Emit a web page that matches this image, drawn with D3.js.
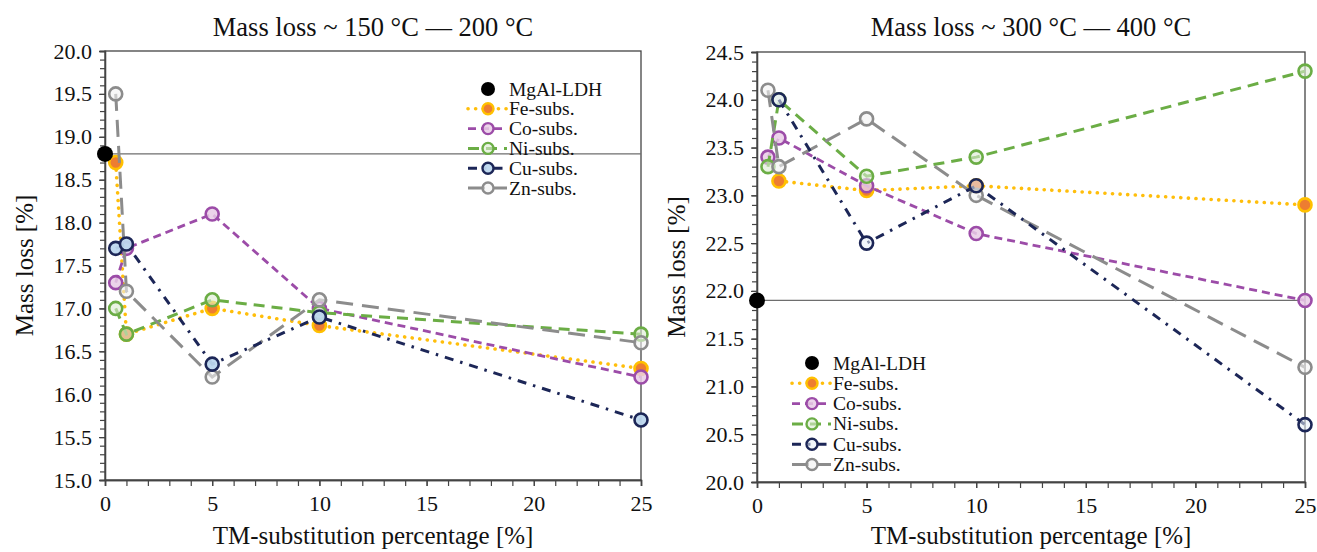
<!DOCTYPE html>
<html><head><meta charset="utf-8">
<script src="https://cdn.jsdelivr.net/npm/d3@7"></script>
<style>
html,body{margin:0;padding:0;background:#fff;}
text{font-family:"Liberation Serif","Times New Roman",serif;fill:#111;}
</style></head>
<body><svg id="c" width="1317" height="552"></svg>
<script>
// ---- data ----
const xValues = [0.5, 1, 5, 10, 25];
const seriesNames = ["Fe-subs.", "Co-subs.", "Ni-subs.", "Cu-subs.", "Zn-subs."];
const mgalLow = 18.8;
const feLow = [18.7, 16.7, 17.0, 16.8, 16.3];
const coLow = [17.3, 17.7, 18.1, 17.0, 16.2];
const niLow = [17.0, 16.7, 17.1, 16.95, 16.7];
const cuLow = [17.7, 17.75, 16.35, 16.9, 15.7];
const znLow = [19.5, 17.2, 16.2, 17.1, 16.6];
const mgalHigh = 21.9;
const feHigh = [null, 23.15, 23.05, 23.1, 22.9];
const coHigh = [23.4, 23.6, 23.1, 22.6, 21.9];
const niHigh = [23.3, 24.0, 23.2, 23.4, 24.3];
const cuHigh = [null, 24.0, 22.5, 23.1, 20.6];
const znHigh = [24.1, 23.3, 23.8, 23.0, 21.2];
const xTickLabels = [0, 5, 10, 15, 20, 25];
const yTickLabelsLow = [15.0, 15.5, 16.0, 16.5, 17.0, 17.5, 18.0, 18.5, 19.0, 19.5, 20.0];
const yTickLabelsHigh = [20.0, 20.5, 21.0, 21.5, 22.0, 22.5, 23.0, 23.5, 24.0, 24.5];
const titles = ["Mass loss ~ 150 °C — 200 °C", "Mass loss ~ 300 °C — 400 °C"];

// ---- styles ----
const styles = {
  "Fe-subs.": {stroke:"#FFBE0B", dash:"0.1 7.5", width:3.6, cap:"round", mStroke:"#FFC000", mFill:"#ED7D31", mOp:1},
  "Co-subs.": {stroke:"#9C4CA8", dash:"8 5", width:2.8, cap:"butt", mStroke:"#9C4CA8", mFill:"#E9CDE6", mOp:0.85},
  "Ni-subs.": {stroke:"#6BAD45", dash:"11 7", width:3, cap:"butt", mStroke:"#6BAD45", mFill:"#DCEBD2", mOp:0.6},
  "Cu-subs.": {stroke:"#1C2657", dash:"9 7 2.5 7", width:3, cap:"butt", mStroke:"#1C2657", mFill:"#BDD7EE", mOp:0.9},
  "Zn-subs.": {stroke:"#8C8C8C", dash:"17 9", width:3, cap:"butt", mStroke:"#8C8C8C", mFill:"#F2F2F2", mOp:0.6}
};
const drawOrder = ["Fe-subs.", "Co-subs.", "Ni-subs.", "Zn-subs.", "Cu-subs."];

const panels = [
  {x0:105, x1:641, y0:51, y1:480, yDom:[15,20], yTicks:yTickLabelsLow, mgal:mgalLow,
   data:{"Fe-subs.":feLow,"Co-subs.":coLow,"Ni-subs.":niLow,"Cu-subs.":cuLow,"Zn-subs.":znLow},
   title:titles[0], legend:{x:488, y:89, dy:19.8}, cuFill:"#BDD7EE", cuOp:0.95},
  {x0:757, x1:1305, y0:52, y1:482, yDom:[20,24.5], yTicks:yTickLabelsHigh, mgal:mgalHigh,
   data:{"Fe-subs.":feHigh,"Co-subs.":coHigh,"Ni-subs.":niHigh,"Cu-subs.":cuHigh,"Zn-subs.":znHigh},
   title:titles[1], legend:{x:812, y:363, dy:20.3}, cuFill:"#E6EEF8", cuOp:0.55}
];

const svg = d3.select("#c");

panels.forEach(p => {
  const x = d3.scaleLinear().domain([0,25]).range([p.x0, p.x1]);
  const y = d3.scaleLinear().domain(p.yDom).range([p.y1, p.y0]);
  const g = svg.append("g");

  g.append("rect").attr("x",p.x0).attr("y",p.y0).attr("width",p.x1-p.x0).attr("height",p.y1-p.y0)
    .attr("fill","none").attr("stroke","#444").attr("stroke-width",1.3);

  const minorY = d3.range(Math.round(p.yDom[0]*10), Math.round(p.yDom[1]*10)+1).map(v=>v/10);
  const yMinor = g.append("g").attr("transform",`translate(${p.x0},0)`)
    .call(d3.axisLeft(y).tickValues(minorY).tickSize(5).tickFormat(""));
  const yMajor = g.append("g").attr("transform",`translate(${p.x0},0)`)
    .call(d3.axisLeft(y).tickValues(p.yTicks).tickSize(6).tickPadding(7).tickFormat(d3.format(".1f")));
  const xMinor = g.append("g").attr("transform",`translate(0,${p.y1})`)
    .call(d3.axisBottom(x).tickValues(d3.range(0,26,1)).tickSize(6).tickFormat(""));
  const xMajor = g.append("g").attr("transform",`translate(0,${p.y1})`)
    .call(d3.axisBottom(x).tickValues(xTickLabels).tickSize(6).tickPadding(9).tickFormat(d3.format("d")));
  [yMinor,yMajor,xMinor,xMajor].forEach(a=>{
    a.select(".domain").attr("stroke","#444").attr("stroke-width",1.3);
    a.selectAll(".tick line").attr("stroke","#444").attr("stroke-width",1.2);
    a.selectAll("text").style("font-family",'"Liberation Serif",serif').style("font-size","22px").attr("fill","#111");
  });

  g.append("line").attr("x1",p.x0).attr("x2",p.x1).attr("y1",y(p.mgal)).attr("y2",y(p.mgal))
    .attr("stroke","#6e6e6e").attr("stroke-width",1.3);

  drawOrder.forEach(name => {
    const st = styles[name];
    const vals = p.data[name];
    const pts = xValues.map((xv,i)=>({x:xv,y:vals[i]}));
    const line = d3.line().defined(d=>d.y!==null).x(d=>x(d.x)).y(d=>y(d.y));
    g.append("path").attr("d",line(pts)).attr("fill","none").attr("stroke",st.stroke)
      .attr("stroke-width",st.width).attr("stroke-dasharray",st.dash).attr("stroke-linecap",st.cap);
    const fill = name==="Cu-subs." ? p.cuFill : st.mFill;
    const op = name==="Cu-subs." ? p.cuOp : st.mOp;
    g.selectAll(null).data(pts.filter(d=>d.y!==null)).enter().append("circle")
      .attr("cx",d=>x(d.x)).attr("cy",d=>y(d.y)).attr("r",6.5)
      .attr("fill",fill).attr("fill-opacity",op).attr("stroke",st.mStroke).attr("stroke-width",2.6);
  });
  g.append("circle").attr("cx",x(0)).attr("cy",y(p.mgal)).attr("r",8).attr("fill","#000");

  const L = p.legend;
  g.append("circle").attr("cx",L.x).attr("cy",L.y).attr("r",7).attr("fill","#000");
  g.append("text").attr("x",L.x+21).attr("y",L.y+6.5).style("font-size","19.5px").text("MgAl-LDH");
  seriesNames.forEach((name,i)=>{
    const st = styles[name];
    const cy = L.y + L.dy*(i+1);
    g.append("line").attr("x1",L.x-20).attr("x2",L.x+19).attr("y1",cy).attr("y2",cy)
      .attr("stroke",st.stroke).attr("stroke-width",st.width).attr("stroke-dasharray",st.dash).attr("stroke-linecap",st.cap);
    const fill = name==="Cu-subs." ? p.cuFill : st.mFill;
    g.append("circle").attr("cx",L.x).attr("cy",cy).attr("r",5.5)
      .attr("fill",fill).attr("fill-opacity",name==="Cu-subs."?p.cuOp:st.mOp).attr("stroke",st.mStroke).attr("stroke-width",2.4);
    g.append("text").attr("x",L.x+21).attr("y",cy+6.5).style("font-size","19.5px").text(name);
  });

  const cx = (p.x0+p.x1)/2;
  g.append("text").attr("x",cx).attr("y",36).attr("text-anchor","middle").style("font-size","26.5px").text(p.title);
  g.append("text").attr("x",cx).attr("y",544).attr("text-anchor","middle").style("font-size","25px").text("TM-substitution percentage [%]");
  g.append("text").attr("transform",`translate(${p.x0-72},${(p.y0+p.y1)/2}) rotate(-90)`)
    .attr("text-anchor","middle").style("font-size","25px").text("Mass loss [%]");
});
</script></body></html>
